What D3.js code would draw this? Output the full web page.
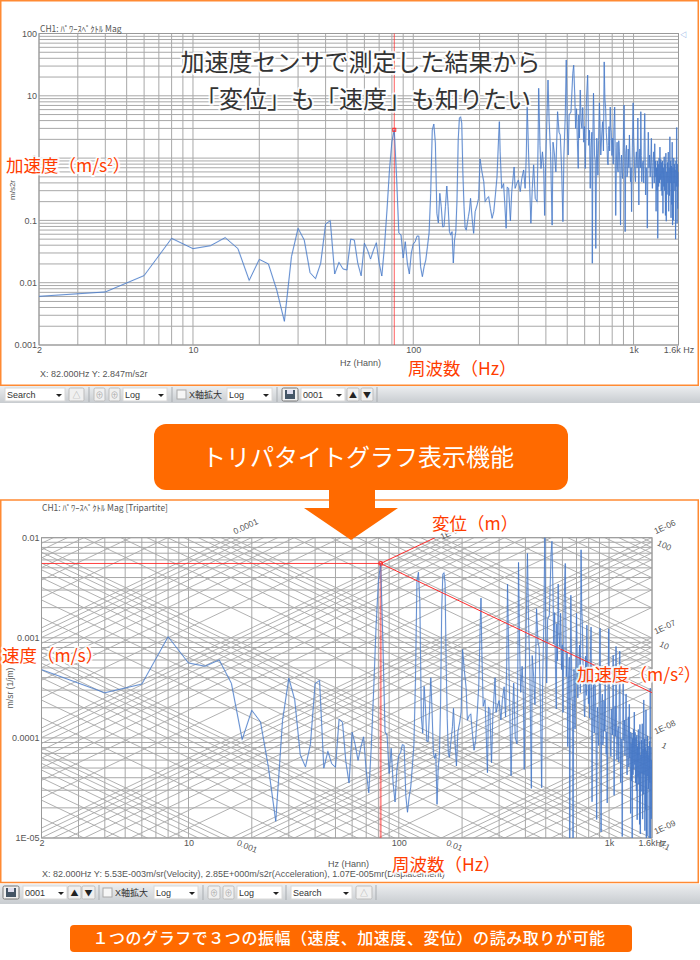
<!DOCTYPE html>
<html lang="ja"><head><meta charset="utf-8">
<script src="https://cdn.jsdelivr.net/npm/d3@7/dist/d3.min.js"></script>
<style>
html,body{margin:0;padding:0;background:#fff}
svg{display:block}
text{font-family:"Noto Sans CJK JP","Noto Sans",sans-serif}
.tk text,.tk{font-family:"Liberation Sans",sans-serif;font-size:9px;fill:#555}
.ui{font-family:"Liberation Sans","Noto Sans CJK JP",sans-serif;font-size:9px;fill:#333}
</style></head><body>
<script>
// ---------- data: [Hz, m/s2] ----------
const spectrumLow=[[2,.00604],[4,.0071],[6,.013],[8,.0515],[10,.0352],[12,.0392],[14,.0529],[16,.0352],[18,.0109],[20,.0237],[22,.02],[24,.00764],[26,.0024],[28,.0262],[30,.0746],[32,.0484],[34,.0145],[36,.0116],[38,.0205],[40,.0875],[42,.099],[44,.0138],[46,.0212],[48,.0166],[50,.016],[52,.05],[54,.0485],[56,.0205],[58,.0129],[60,.043],[62,.0335],[64,.024],[66,.0335],[68,.0438],[70,.0207],[72,.0128],[74,.0378],[76,.147],[78,.645],[80,1.83],[82,2.847],[84,.5],[86,.0628],[88,.0583],[90,.0249],[92,.0455],[94,.0207],[96,.0138],[98,.03],[100,.0418],[102,.0455],[104,.056],[106,.056],[108,.018],[110,.0125],[112,.018],[114,.0231],[116,.0378],[118,.0628],[120,.272],[122,2.82],[124,3.52],[126,1.75],[128,.13],[130,.091],[132,.272],[134,.166],[136,.079],[138,.08],[140,.166],[142,.356],[144,.166],[146,.066],[148,.058],[150,.066],[152,.0207],[154,.0485],[156,.066],[158,.212],[160,1.95],[162,4.4],[164,4.6],[166,3.66],[168,.575],[170,.166],[172,.076],[174,.07],[176,.09],[178,.115],[180,.147]];
const spectrumMid=[[182,.226],[185,.108],[188,.062],[191,.138],[195,.177],[198,.226],[201,.968],[205,.606],[209,.417],[212,.2],[216,.226],[220,.24],[224,.155],[228,.108],[232,.138],[236,.256],[240,.5],[244,2.08],[246,3.85],[248,1.26],[252,.327],[257,.39],[260,.2],[264,.0746],[267,.34],[271,.327],[276,.098],[280,.29],[287,.72],[290,.327],[295,.39],[300,.445],[306,.29],[311,.47],[317,.645],[322,.327],[326,1.12],[329,7.1],[334,1.12],[338,.327],[342,.09],[347,.327],[352,.78],[358,.226],[365,.2],[369,2.08],[371,13.2],[376,1.6],[380,.68],[386,1.26],[391,.68],[395,.12],[399,.78],[404,3.85],[409,17.9],[414,3.85],[420,1.26],[427,.084],[431,1.8],[438,1.12],[444,.6],[452,5.56],[459,2.6],[465,2.35],[472,.6],[478,.0955],[483,1.12],[490,4.9],[495,37.6],[500,3.85],[505,1.12],[510,4.9],[520,5.5],[530,23],[535,31]];
const spectrumUpper=[[541,10.3],[546,3],[551,6.2],[556,1.9],[561,.685],[564,4.9],[568,2.1],[573,12.4],[578,4],[583,3],[588,6.5],[594,1.8],[599,3.2],[604,.68],[608,2.5],[611,8],[619,21.5],[623,5],[626,1.6],[631,2.8],[636,.327],[641,1.5],[647,2.6],[650,.0205],[654,2.2],[658,11],[662,3.5],[665,1.12],[670,.9],[674,.0355],[678,.6],[681,2.08],[685,1.2],[689,.53],[694,1.9],[700,7.7],[705,3],[710,1.12],[717,2.35],[724,3.85],[730,1.3],[736,35],[741,9],[747,6.2],[752,2.6],[758,1.6],[762,.9],[766,.78],[770,1.6],[774,3.2],[779,1.3],[784,6.6],[788,3.1],[792,2.6],[798,1.1],[804,2.08],[809,.8],[815,3.2],[821,6.6],[825,1.5],[830,.12],[836,.9],[842,1.8],[846,.7],[851,.6],[857,1.9],[863,1.26],[868,.5],[873,.084],[878,.8],[882,1.12],[887,.6],[892,.47],[899,1.8],[906,7.1],[911,1.5],[916,.066],[922,1.2],[929,1.6],[934,.5],[940,.6],[946,1.4],[952,.7],[958,2.35],[964,.9],[969,.417],[975,.7],[980,.138],[988,1.5],[996,7.7],[1001,2.2],[1006,1.26],[1013,.6],[1020,.417],[1025,.9],[1030,1.26],[1038,.7],[1046,4.4],[1052,.8],[1057,.177],[1062,.9],[1068,1.4],[1074,.7],[1079,5.56],[1085,1.1],[1090,.417],[1098,.8],[1106,.9],[1112,.4],[1118,1.8],[1124,5.2],[1130,.9],[1135,.256],[1141,.7],[1147,.6],[1151,.3],[1155,.075],[1161,.8],[1167,2.6],[1175,.7],[1183,1.12],[1190,.5],[1198,.9],[1205,2.08],[1211,.6],[1218,.327],[1226,.8],[1235,1.26]];
const spectrumHigh=[[1242,.4],[1248,1.7],[1254,.5],[1260,.9],[1266,.14],[1272,.7],[1278,.3],[1284,.9],[1288,.0515],[1294,.8],[1300,.35],[1306,1],[1312,.4],[1318,1.5],[1324,.45],[1330,.95],[1336,.3],[1342,.85],[1348,.25],[1354,.9],[1360,.13],[1366,.7],[1372,.35],[1378,1.05],[1384,.3],[1390,.8],[1396,.12],[1402,1.2],[1408,.097],[1414,.6],[1420,.26],[1426,.85],[1432,.4],[1438,1.25],[1444,.14],[1450,.7],[1456,.25],[1462,2.2],[1468,.4],[1474,.9],[1480,.11],[1486,.75],[1492,.18],[1498,1.8],[1504,.084],[1510,.7],[1516,.1],[1522,1],[1528,.4],[1534,.8],[1540,.3],[1546,.65],[1552,.05],[1558,.9],[1564,.35],[1570,3.1],[1576,.09],[1582,.8],[1588,.155],[1594,.6],[1600,.35]];
const spectrum=[...spectrumLow,...spectrumMid,...spectrumUpper,...spectrumHigh];
const cursorHz=82, cursorAccel=2.847, cursorVel=5.53e-3, cursorDisp=1.07e-5;
const freqGrid=[2,3,4,5,6,7,8,9,10,20,30,40,50,60,70,80,90,100,200,300,400,500,600,700,800,900,1000,1600];
const gridMult=[1,2,3,4,5,6,7,8,9];
const velDecades=[1e-5,1e-4,1e-3];
const triAccelDecades=[1e-4,1e-3,1e-2,1e-1,1,10];
const triDispDecades=[1e-9,1e-8,1e-7,1e-6,1e-5,1e-4];
const xTicks=[2,10,100,1000,1600], xTickLabels=["2","10","100","1k","1.6k Hz"];
const xTickLabels2=["2","10","100","1k","1.6kHz"];
const accelTicks=[100,10,1,.1,.01,.001], accelTickLabels=["100","10","1","0.1","0.01","0.001"];
const velTicks=[.01,.001,.0001,.00001], velTickLabels=["0.01","0.001","0.0001","1E-05"];
const dispRightLabels=[[1e-6,"1E-06"],[1e-7,"1E-07"],[1e-8,"1E-08"],[1e-9,"1E-09"]];
const accelRightLabels=[[100,"100"],[10,"10"],[1,"1"],[.1,"0.1"]];

const W=700,H=960,TAU=2*Math.PI;
const svg=d3.select("body").append("svg").attr("width",W).attr("height",H);
const defs=svg.append("defs");
const g0=defs.append("linearGradient").attr("id","tb").attr("x1",0).attr("x2",0).attr("y1",0).attr("y2",1);
g0.append("stop").attr("offset",0).attr("stop-color","#eceef0");
g0.append("stop").attr("offset",1).attr("stop-color","#c8ccd0");

const GRID="#a8a8a8", LINE="#4577c6", RED="#ff2a2a", LBL="#ff3c00";
const clip=(id,x0,y0,x1,y1)=>defs.append("clipPath").attr("id",id).append("rect").attr("x",x0).attr("y",y0).attr("width",x1-x0).attr("height",y1-y0);
const multiples=d=>d.flatMap(b=>gridMult.map(m=>b*m));
const trace=(g,gen,id)=>{
  g.append("path").datum(spectrum).attr("d",gen).attr("fill","none").attr("stroke","#8fb0e2").attr("stroke-opacity",.22).attr("stroke-width",1.8).attr("clip-path",`url(#${id})`);
  g.append("path").datum(spectrum).attr("d",gen).attr("fill","none").attr("stroke",LINE).attr("stroke-width",.8).attr("clip-path",`url(#${id})`);
};

// ---------- frames ----------
const frame=(x,y,w,h)=>svg.append("rect").attr("x",x).attr("y",y).attr("width",w).attr("height",h).attr("fill","#fff").attr("stroke","#ff8a33").attr("stroke-width",1.5);
frame(.75,.75,697.5,384.5);
frame(.75,500,697.5,382.5);

// ---------- top chart ----------
const T={x0:39,x1:678.5,y0:33.5,y1:345};
const xT=d3.scaleLog().domain([2,1600]).range([T.x0,T.x1]);
const yT=d3.scaleLog().domain([.001,100]).range([T.y1,T.y0]);
clip("cT",T.x0,T.y0,T.x1,T.y1);
const gT=svg.append("g");
const aVals=[...multiples([.001,.01,.1,1,10]),100];
gT.selectAll(".h").data(aVals).join("line").attr("x1",T.x0).attr("x2",T.x1).attr("y1",d=>yT(d)).attr("y2",d=>yT(d)).attr("stroke",GRID);
gT.selectAll(".v").data(freqGrid).join("line").attr("y1",T.y0).attr("y2",T.y1).attr("x1",d=>xT(d)).attr("x2",d=>xT(d)).attr("stroke",GRID);
gT.append("rect").attr("x",T.x0).attr("y",T.y0).attr("width",T.x1-T.x0).attr("height",T.y1-T.y0).attr("fill","none").attr("stroke","#999").attr("stroke-width",1);
gT.append("line").attr("x1",xT(cursorHz)).attr("x2",xT(cursorHz)).attr("y1",T.y0).attr("y2",T.y1).attr("stroke",RED).attr("stroke-opacity",.75);
trace(gT,d3.line().x(d=>xT(d[0])).y(d=>yT(d[1])),"cT");
gT.append("rect").attr("x",xT(cursorHz)-1.5).attr("y",yT(cursorAccel)-1.5).attr("width",3).attr("height",3).attr("fill","none").attr("stroke",RED);
const axL=(g,s,ticks,labels,x)=>g.append("g").attr("class","tk").attr("transform",`translate(${x},0)`)
  .call(d3.axisLeft(s).tickValues(ticks).tickSize(0).tickPadding(1).tickFormat((d,i)=>labels[i]))
  .call(a=>a.select(".domain").remove()).call(a=>a.selectAll("text").attr("fill","#555").style("font-size","9px"));
const axB=(g,s,labels,y)=>g.append("g").attr("class","tk").attr("transform",`translate(0,${y})`)
  .call(d3.axisBottom(s).tickValues(xTicks).tickSize(0).tickPadding(2).tickFormat((d,i)=>labels[i]))
  .call(a=>a.select(".domain").remove()).call(a=>a.selectAll("text").attr("fill","#555").style("font-size","9px"));
axL(gT,yT,accelTicks,accelTickLabels,T.x0-1);
axB(gT,xT,xTickLabels,T.y1);
const tiny=(x,y,t,rot,anchor)=>svg.append("text").attr("class","tk").attr("x",x).attr("y",y).attr("fill","#555").attr("text-anchor",anchor||"start").attr("transform",rot!=null?`rotate(${rot} ${x} ${y})`:null).text(t);
tiny(40,32,"CH1: ﾊﾟﾜｰｽﾍﾟｸﾄﾙ  Mag").style("font-family",'"Noto Sans CJK JP"').style("font-size","8.5px");
tiny(340,366,"Hz (Hann)");
tiny(40,377,"X: 82.000Hz  Y: 2.847m/s2r");
tiny(15,190,"m/s2r",-90,"middle").style("font-size","8px");
svg.append("text").attr("x",680).attr("y",37).attr("font-size",7).attr("fill","#6a8fd8").text("◁");

// ---------- bottom chart ----------
const B={x0:41.5,x1:652,y0:537.7,y1:838};
const xB=d3.scaleLog().domain([2,1600]).range([B.x0,B.x1]);
const yB=d3.scaleLog().domain([1e-5,.01]).range([B.y1,B.y0]);
clip("cB",B.x0,B.y0,B.x1,B.y1);
const gB=svg.append("g");
const vVals=[...multiples(velDecades),.01];
gB.selectAll(".h").data(vVals).join("line").attr("x1",B.x0).attr("x2",B.x1).attr("y1",d=>yB(d)).attr("y2",d=>yB(d)).attr("stroke",GRID);
gB.selectAll(".v").data(freqGrid).join("line").attr("y1",B.y0).attr("y2",B.y1).attr("x1",d=>xB(d)).attr("x2",d=>xB(d)).attr("stroke",GRID);
const diag=gB.append("g").attr("clip-path","url(#cB)");
diag.selectAll(".a").data(multiples(triAccelDecades)).join("line")
  .attr("x1",xB(2)).attr("x2",xB(1600)).attr("y1",a=>yB(a/(TAU*2))).attr("y2",a=>yB(a/(TAU*1600))).attr("stroke",GRID).attr("stroke-width",.9);
diag.selectAll(".d").data(multiples(triDispDecades)).join("line")
  .attr("x1",xB(2)).attr("x2",xB(1600)).attr("y1",d=>yB(d*TAU*2)).attr("y2",d=>yB(d*TAU*1600)).attr("stroke",GRID).attr("stroke-width",.9);
gB.append("rect").attr("x",B.x0).attr("y",B.y0).attr("width",B.x1-B.x0).attr("height",B.y1-B.y0).attr("fill","none").attr("stroke","#999");
const cur=gB.append("g").attr("clip-path","url(#cB)");
cur.append("line").attr("x1",xB(cursorHz)).attr("x2",xB(cursorHz)).attr("y1",yB(cursorVel)).attr("y2",B.y1).attr("stroke",RED).attr("stroke-opacity",.55).attr("stroke-width",2);
trace(gB,d3.line().x(d=>xB(d[0])).y(d=>yB(d[1]/(TAU*d[0]))),"cB");
const cur2=gB.append("g").attr("clip-path","url(#cB)");
cur2.append("line").attr("x1",B.x0).attr("x2",xB(cursorHz)).attr("y1",yB(cursorVel)).attr("y2",yB(cursorVel)).attr("stroke",RED).attr("stroke-width",.9);
cur2.append("line").attr("x1",xB(cursorHz)).attr("x2",xB(1600)).attr("y1",yB(cursorVel)).attr("y2",yB(cursorAccel/(TAU*1600))).attr("stroke",RED).attr("stroke-width",1);
cur2.append("line").attr("x1",xB(cursorHz)).attr("y1",yB(cursorVel)).attr("x2",xB(.01/(TAU*cursorDisp))).attr("y2",yB(.01)).attr("stroke",RED).attr("stroke-width",1);
gB.append("circle").attr("cx",xB(cursorHz)).attr("cy",yB(cursorVel)).attr("r",1.8).attr("fill","none").attr("stroke",RED).attr("stroke-width",1.2);
axL(gB,yB,velTicks,velTickLabels,B.x0-1);
axB(gB,xB,xTickLabels2,B.y1);
tiny(42,511,"CH1: ﾊﾟﾜｰｽﾍﾟｸﾄﾙ Mag [Tripartite]").style("font-family",'"Noto Sans CJK JP"').style("font-size","8.5px");
tiny(328,867,"Hz (Hann)");
tiny(42,877,"X: 82.000Hz Y: 5.53E-003m/sr(Velocity),  2.85E+000m/s2r(Acceleration),  1.07E-005mr(Displacement)");
tiny(13,688,"m/sr (1/jm)",-90,"middle").style("font-size","8.5px");
// tripartite scale labels
const rl=(x,y,t,r)=>svg.append("text").attr("class","tk").attr("text-anchor","middle").attr("dominant-baseline","middle").attr("transform",`translate(${x},${y}) rotate(${r})`).attr("fill","#666").style("font-size","8.5px").text(t);
dispRightLabels.forEach(([d,t])=>rl(xB(1600)+13,yB(d*TAU*1600)-10,t,-25));
accelRightLabels.forEach(([a,t])=>rl(xB(1600)+12,yB(a/(TAU*1600))+8,t,25));
rl(xB(.01/(TAU*1e-4))+15,527,"0.0001",-25);
rl(xB(.01/(TAU*1e-5))+10,533,"1E-05",-25);
rl(xB(1e-3/(TAU*1e-5))+16,847,"0.001",22);
rl(xB(1e-2/(TAU*1e-5))+13,846,"0.01",22);

// ---------- toolbars ----------
const bar=(y,h)=>svg.append("rect").attr("x",0).attr("y",y).attr("width",W).attr("height",h).attr("fill","url(#tb)");
const sel=(x,w,y,t)=>{svg.append("rect").attr("x",x).attr("y",y).attr("width",w).attr("height",13).attr("fill","#fff").attr("stroke","#d8d8d8");
  svg.append("text").attr("class","ui").attr("x",x+2).attr("y",y+10).text(t);
  svg.append("path").attr("d",`M${x+w-9},${y+6}h6l-3,3z`).attr("fill","#222");};
const btn=(x,w,y,gl,c)=>{svg.append("rect").attr("x",x).attr("y",y).attr("width",w).attr("height",13).attr("rx",1.5).attr("fill","#f0f0f0").attr("stroke",c||"#bdbdbd");
  if(gl)svg.append("text").attr("x",x+w/2).attr("y",y+10).attr("text-anchor","middle").attr("font-size",8).attr("fill",gl==="△"||gl==="⊕"?"#aaa":"#222").text(gl);};
const sep=(x,y)=>svg.append("line").attr("x1",x).attr("x2",x).attr("y1",y).attr("y2",y+15).attr("stroke","#a9adb1");
const chk=(x,y)=>{svg.append("rect").attr("x",x).attr("y",y+2).attr("width",9).attr("height",9).attr("fill","#f6f6f6").attr("stroke","#aaa");
  svg.append("text").attr("class","ui").attr("x",x+12).attr("y",y+10).attr("fill","#555").text("X軸拡大");};
const save=(x,y)=>{btn(x,16,y,null,"#777");svg.append("rect").attr("x",x+3).attr("y",y+2).attr("width",10).attr("height",9).attr("fill","#456");svg.append("rect").attr("x",x+5).attr("y",y+2).attr("width",6).attr("height",4).attr("fill","#dde");};
bar(386,17);
{const y=388;sel(5,60,y,"Search");btn(69,15,y,"△");sep(89,y-1);btn(94,11,y,"⊕");btn(109,11,y,"⊕");sel(123,44,y,"Log");sep(172,y-1);chk(177,y);sel(227,45,y,"Log");sep(277,y-1);save(282,y);sel(301,44,y,"0001");btn(347,12,y,"▲");btn(361,12,y,"▼");sep(377,y-1);}
bar(884,20);
{const y=886;save(3,y);sel(23,44,y,"0001");btn(68,13,y,"▲");btn(82,13,y,"▼");sep(99,y-1);chk(103,y);sel(154,44,y,"Log");sep(203,y-1);btn(208,12,y,"⊕");btn(223,11,y,"⊕");sel(237,45,y,"Log");sep(286,y-1);sel(291,61,y,"Search");btn(356,16,y,"△");sep(376,y-1);}

// ---------- callouts ----------
const halo=s=>s.attr("paint-order","stroke").attr("stroke","rgba(255,255,255,.85)").attr("stroke-width",4).attr("stroke-linejoin","round");
const big=(t,x,y)=>halo(svg.append("text").attr("x",x).attr("y",y).attr("text-anchor","middle").attr("font-size",24).attr("fill","#333")).text(t);
big("加速度センサで測定した結果から",360.5,71);
big("「変位」も「速度」も知りたい",363,108);
const red=(x,y,t,sup,after)=>{const s=halo(svg.append("text").attr("x",x).attr("y",y).attr("font-size",17.5).attr("fill",LBL));
  s.append("tspan").text(t);
  if(sup){s.append("tspan").attr("dy",-6).attr("font-size",10).text(sup);s.append("tspan").attr("dy",6).text(after);}
  return s;};
red(6,172,"加速度（m/s","2","）");
red(408,375,"周波数（Hz）");
red(432,530,"変位（m）");
red(577,681,"加速度（m/s","2","）");
red(2,662,"速度（m/s）");
red(392,871,"周波数（Hz）");

const OR="#ff6a00";
svg.append("rect").attr("x",154).attr("y",424).attr("width",414).attr("height",66).attr("rx",12).attr("fill",OR);
svg.append("text").attr("x",358).attr("y",466).attr("text-anchor","middle").attr("font-size",24).attr("fill","#fff").text("トリパタイトグラフ表示機能");
svg.append("path").attr("d","M329,489H375V508H398L351,540L304,508H329Z").attr("fill",OR);
svg.append("rect").attr("x",70).attr("y",925).attr("width",562).attr("height",27).attr("rx",4).attr("fill",OR);
svg.append("text").attr("x",349).attr("y",944).attr("text-anchor","middle").attr("font-size",16).attr("font-weight",500).attr("letter-spacing",.55).attr("fill","#fff").text("１つのグラフで３つの振幅（速度、加速度、変位）の読み取りが可能");
</script>
</body></html>
